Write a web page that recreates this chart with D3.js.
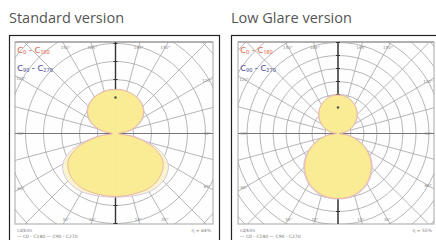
<!DOCTYPE html>
<html>
<head>
  <meta charset="UTF-8">
  <style>
    body { margin: 0; background: #fff; }
    svg { display: block; }
  </style>
  <title>Polar light distribution</title>
</head>
<body>
<svg></svg>
<script src="https://d3js.org/d3.v7.min.js"></script>
<script>

let width = 436, height = 240;

// angle from nadir (deg) and intensities in cd/klm
const angles = [0,10,20,30,40,50,60,70,80,90,100,110,120,130,140,150,160,170,180];
const stdC0  = [175,175,176,178,176,168,152,112,50,8,34,63,86,101,111,117,120,122,122];
const stdC90 = [177,178,182,187,188,184,169,127,58,10,37,66,88,103,112,117,120,122,122];
const lgC0   = [250,248,238,221,196,165,127,85,42,5,26,51,74,95,113,128,139,146,148];
const lgC90  = [252,250,241,225,201,170,131,88,44,6,27,52,75,96,113,127,138,145,148];
const titles = ["Standard version", "Low Glare version"];
const gridAngles = d3.range(0, 360, 15);
const labelAngles = [-165, -150, -120, -90, -60, -30, -15, 15, 30, 60, 90, 120, 150, 165];

let svg = d3.select("svg")
    .attr("width", width)
    .attr("height", height)
    .attr("viewBox", "0 0 " + width + " " + height);

let panels = [
  {title: titles[0], bx: 9.5, bw: 210, px: 15, pw: 198, cx: 115.5, ringPx: 18, c0: stdC0, c90: stdC90, eta: "η = 64%"},
  {title: titles[1], bx: 231.5, bw: 210, px: 238, pw: 196, cx: 338, ringPx: 13, c0: lgC0, c90: lgC90, eta: "η = 55%"}
];

let py = 42, ph = 182, cy = 133.5;

panels.forEach((p, i) => {
  let g = svg.append("g");

  g.append("text")
    .attr("x", p.bx - 0.5)
    .attr("y", 23)
    .attr("font-family", "Open Sans")
    .attr("font-size", 14.5)
    .attr("fill", "#555")
    .text(p.title);

  g.append("rect")
    .attr("x", p.bx).attr("y", 35.5)
    .attr("width", p.bw).attr("height", 220)
    .attr("fill", "#fff").attr("stroke", "#222").attr("stroke-width", 1.2);

  g.append("rect")
    .attr("x", p.px).attr("y", py)
    .attr("width", p.pw).attr("height", ph)
    .attr("fill", "#fefefe").attr("stroke", "#bbb").attr("stroke-width", 1.3);

  g.append("line")
    .attr("x1", p.px).attr("x2", p.px + p.pw).attr("y1", py).attr("y2", py)
    .attr("stroke", "#b0b0b0").attr("stroke-width", 2);

  let clipId = "clip" + i;
  svg.append("clipPath").attr("id", clipId)
    .append("rect")
    .attr("x", p.px).attr("y", py).attr("width", p.pw).attr("height", ph);

  let plot = g.append("g").attr("clip-path", "url(#" + clipId + ")");

  // 50 cd/klm per ring
  let r = d3.scaleLinear().domain([0, 50]).range([0, p.ringPx]);
  let rings = d3.range(50, 50 * 13, 50);

  let center = plot.append("g").attr("transform", "translate(" + p.cx + "," + cy + ")");

  center.selectAll("circle.ring")
    .data(rings)
    .enter()
    .append("circle")
    .attr("class", "ring")
    .attr("r", d => r(d))
    .attr("fill", "none")
    .attr("stroke", "#a4a4a4")
    .attr("stroke-width", 0.8);

  center.selectAll("line.spoke")
    .data(gridAngles)
    .enter()
    .append("line")
    .attr("class", "spoke")
    .attr("x1", d => r(50) * Math.sin(d * Math.PI / 180))
    .attr("y1", d => r(50) * Math.cos(d * Math.PI / 180))
    .attr("x2", d => 300 * Math.sin(d * Math.PI / 180))
    .attr("y2", d => 300 * Math.cos(d * Math.PI / 180))
    .attr("stroke", "#a4a4a4")
    .attr("stroke-width", 0.8);

  // axes
  center.append("line")
    .attr("x1", -300).attr("x2", 300).attr("y1", 0).attr("y2", 0)
    .attr("stroke", "#777").attr("stroke-width", 1);

  center.append("line")
    .attr("x1", 0).attr("x2", 0).attr("y1", -300).attr("y2", 300)
    .attr("stroke", "#333").attr("stroke-width", 1.4);

  center.selectAll("line.tick")
    .data(rings.flatMap(d => [d, -d]))
    .enter()
    .append("line")
    .attr("class", "tick")
    .attr("x1", -2).attr("x2", 2)
    .attr("y1", d => r(d)).attr("y2", d => r(d))
    .attr("stroke", "#333").attr("stroke-width", 1);

  // distribution curves
  let pts = vals => {
    let right = angles.map((a, k) => [Math.PI - a * Math.PI / 180, r(vals[k])]);
    let left = angles.slice(1, -1).reverse().map(a => {
      let idx = angles.indexOf(a);
      return [Math.PI + a * Math.PI / 180, r(vals[idx])];
    });
    return right.concat(left);
  };

  let radial = d3.lineRadial()
    .angle(d => d[0])
    .radius(d => d[1])
    .curve(d3.curveCatmullRomClosed);

  center.append("path")
    .attr("d", radial(pts(p.c90)))
    .attr("fill", "#fbf3c6")
    .attr("fill-opacity", 0.9)
    .attr("stroke", "#cbbde6")
    .attr("stroke-width", 0.8);

  center.append("path")
    .attr("d", radial(pts(p.c0)))
    .attr("fill", "#f9eb8e")
    .attr("fill-opacity", 0.9)
    .attr("stroke", "#eab0a6")
    .attr("stroke-width", 0.9);

  // small dot on axis in upper lobe
  center.append("circle")
    .attr("cx", 0).attr("cy", -r(i === 0 ? 100 : 100))
    .attr("r", 1.3).attr("fill", "#555");

  // angle labels at plot edge
  let edge = a => {
    let s = Math.sin(a * Math.PI / 180), c = Math.cos(a * Math.PI / 180);
    let tx = Math.abs(s) > 1e-6 ? (s > 0 ? (p.px + p.pw - 6 - p.cx) : (p.cx - p.px - 6)) / Math.abs(s) : 1e9;
    let ty = Math.abs(c) > 1e-6 ? (c > 0 ? (py + ph - 5 - cy) : (cy - py - 5)) / Math.abs(c) : 1e9;
    let t = Math.min(tx, ty);
    return [p.cx + t * s, cy + t * c];
  };

  g.selectAll("text.ang")
    .data(labelAngles)
    .enter()
    .append("text")
    .attr("class", "ang")
    .attr("x", d => edge(d)[0])
    .attr("y", d => edge(d)[1] + 1.5)
    .attr("text-anchor", "middle")
    .attr("font-family", "DejaVu Sans")
    .attr("font-size", 4)
    .attr("fill", "#888")
    .text(d => Math.abs(d) + "°");

  // legend
  let leg = g.append("g").attr("font-family", "Open Sans").attr("font-weight", 600);
  let l1 = leg.append("text").attr("x", p.px + 2).attr("y", 53).attr("font-size", 9.5).attr("fill", "#e8836f");
  l1.append("tspan").text("C");
  l1.append("tspan").attr("font-size", 5.5).attr("dy", 1).text("0");
  l1.append("tspan").attr("dy", -1).text(" - C");
  l1.append("tspan").attr("font-size", 5.5).attr("dy", 1).text("180");
  let l2 = leg.append("text").attr("x", p.px + 2).attr("y", 71).attr("font-size", 9.5).attr("fill", "#7070a8");
  l2.append("tspan").text("C");
  l2.append("tspan").attr("font-size", 5.5).attr("dy", 1).text("90");
  l2.append("tspan").attr("dy", -1).text(" - C");
  l2.append("tspan").attr("font-size", 5.5).attr("dy", 1).text("270");

  // footer
  let foot = g.append("g").attr("font-family", "DejaVu Sans").attr("font-size", 4.5).attr("fill", "#777");
  foot.append("text").attr("x", p.px + 2).attr("y", 232).text("cd/klm");
  foot.append("text").attr("x", p.px + 2).attr("y", 237.5).text("— C0 - C180   — C90 - C270");
  foot.append("text").attr("x", p.px + p.pw - 2).attr("y", 232).attr("text-anchor", "end").text(p.eta);
});

</script>
</body>
</html>
